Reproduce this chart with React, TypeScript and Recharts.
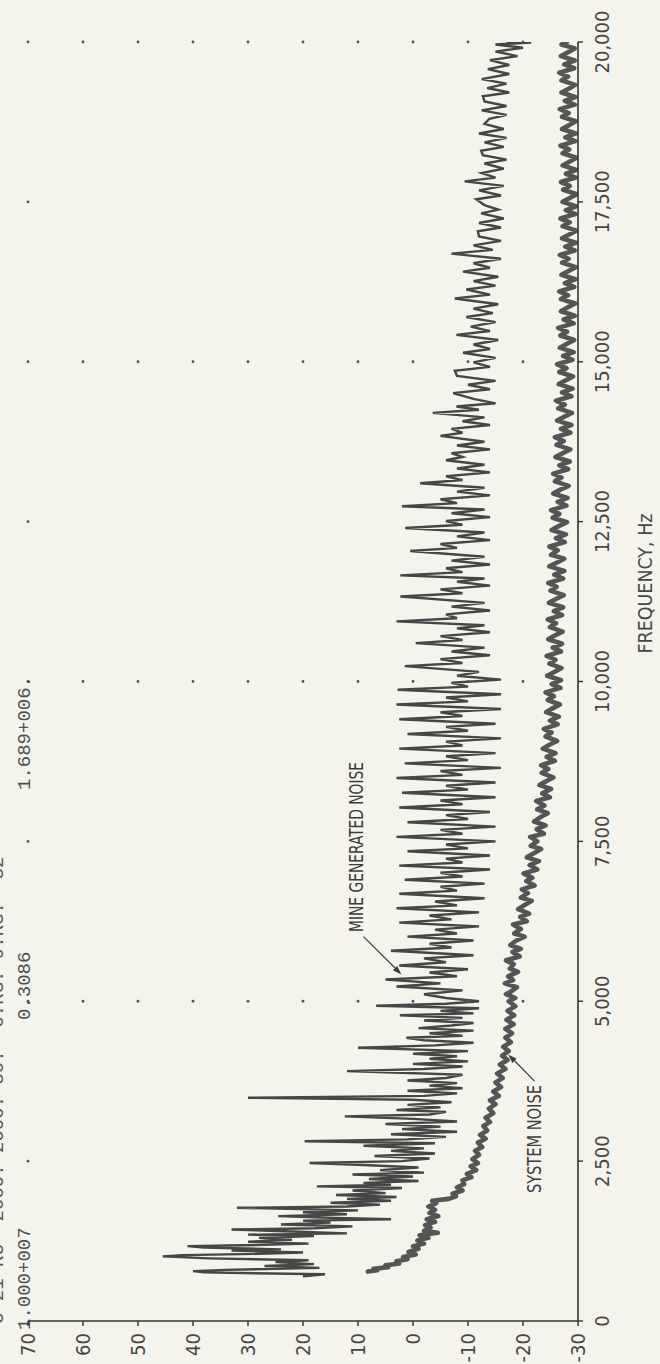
import React from 'react';
import { ComposedChart, Line, XAxis, YAxis, ReferenceDot, ReferenceLine } from 'recharts';

const NARROW = '"Liberation Sans Narrow", "DejaVu Sans Condensed", "Arial Narrow", sans-serif';
const MONO = '"Liberation Mono", "DejaVu Sans Mono", monospace';
const INK = '#464646';

const freqTicks = [0, 2500, 5000, 7500, 10000, 12500, 15000, 17500, 20000];
const freqTickLabels = ['0', '2,500', '5,000', '7,500', '10,000', '12,500', '15,000', '17,500', '20,000'];
const dbTicks = [70, 60, 50, 40, 30, 20, 10, 0, -10, -20, -30];
const gridDbRows = [70, 60, 50, 40, 30, 20, 10, 0, -10, -20];
const gridFreqCols = [5000, 10000, 15000, 20000];
const topRowExtraFreqs = [2500, 7500, 12500, 17500];

const headerLine1 = 'C 21 RC  2000. 2000. 50.  0.RG. 9.RG.  52';
const headerValues = ['1.000+007', '0.3086', '1.689+006.'];

// Mine generated noise (frequency Hz, level dB)
const mineBand700: [number, number][] = [
  [700, 20], [730, 16], [760, 38], [780, 40], [800, 34], [830, 17], [860, 27], [890, 18], [920, 25], [950, 19],
  [980, 37], [1010, 45.5], [1030, 42], [1050, 28], [1070, 20], [1100, 33], [1120, 24], [1150, 38], [1170, 41],
  [1190, 27], [1210, 19], [1240, 30], [1270, 22], [1300, 28], [1330, 18], [1350, 30], [1370, 12], [1400, 22],
  [1430, 33], [1450, 18], [1480, 11], [1510, 24], [1540, 15], [1570, 20], [1590, 4], [1610, 14], [1640, 24.5],
  [1670, 12], [1700, 20], [1730, 10], [1770, 32], [1790, 12], [1820, 6], [1850, 15], [1880, 4], [1910, 12],
  [1940, 3], [1970, 14],
];
const mineBand2000: [number, number][] = [
  [2000, 5], [2040, 11], [2080, 2], [2105, 17.5], [2130, 4], [2160, 9], [2190, -1], [2220, 8], [2260, 0],
  [2290, 11], [2320, -2], [2360, 6], [2400, -1], [2440, 9], [2470, 18.8], [2500, 2], [2540, -3], [2580, 7],
  [2620, -4], [2660, 4], [2700, -2], [2740, 9], [2780, -4], [2810, 19.7], [2840, 1], [2880, -6], [2920, 4],
  [2960, -8], [3000, 2], [3040, -5], [3080, 5], [3120, -8], [3160, 0], [3200, 12.4], [3230, -3], [3270, -6],
  [3300, 3], [3340, -5], [3380, 1], [3420, -7], [3460, 0], [3490, 30], [3520, -2], [3560, -8], [3600, 1],
  [3640, -9], [3680, -3], [3720, -8], [3760, 1], [3800, -6], [3850, -9], [3908, 12], [3940, -2], [3980, -9],
  [4020, 0], [4060, -10], [4100, -3], [4140, -8], [4180, 0], [4220, -10], [4274, 10], [4310, -4], [4350, -11],
  [4390, -2], [4430, 1.2], [4460, -9], [4500, -3], [4540, -11], [4580, -1], [4620, -7], [4660, -11], [4700, -2],
  [4740, -9], [4780, 2.4], [4810, -11], [4850, -5], [4890, -12], [4930, 6.7], [4960, -6],
];
const mineComb5000: [number, number][] = [
  [5000, -12], [5050, -6], [5110, -2], [5170, -9], [5230, 3], [5280, -5], [5340, 5], [5390, -8], [5450, -3],
  [5500, -10], [5560, 2.5], [5610, -6], [5670, -2], [5720, -11], [5790, 4], [5840, -7], [5900, -3], [5950, -11],
  [6010, 1], [6060, -8], [6120, -4], [6170, -12], [6230, 2.5], [6280, -7], [6340, -3], [6390, -12], [6455, 3],
  [6500, -8], [6560, -4], [6610, -13], [6680, 2.5], [6730, -8], [6790, -5], [6840, -13], [6900, 1.5], [6950, -9],
  [7010, -5], [7060, -14], [7120, 2.5], [7170, -9], [7230, -6], [7280, -14], [7345, 1], [7390, -10], [7450, -6],
  [7500, -15],
];
const mineComb7500: [number, number][] = [
  [7570, 3], [7620, -9], [7680, -5], [7730, -15], [7800, 1], [7850, -10], [7910, -6], [7960, -14], [8030, 2.5],
  [8080, -9], [8140, -5], [8190, -15], [8260, 2], [8310, -10], [8370, -6], [8420, -15], [8490, 3], [8540, -9],
  [8600, -5], [8650, -16], [8720, 1.5], [8770, -10], [8830, -6], [8880, -15], [8950, 2.5], [9000, -9], [9060, -6],
  [9110, -16], [9180, 1], [9230, -10], [9290, -6], [9340, -15], [9410, 2.5], [9460, -9], [9520, -5], [9570, -16],
  [9640, 3], [9690, -10], [9750, -6], [9800, -16], [9870, 2.8], [9920, -10], [9980, -7], [10030, -16],
  [10090, -8], [10150, -12],
];
const mineComb10000: [number, number][] = [
  [10240, 1.5], [10290, -9], [10350, -5], [10410, -14], [10470, -7], [10530, -13],
  [10600, -0.5], [10650, -9], [10710, -5], [10770, -14], [10830, -8], [10880, -13],
  [10940, 3], [10990, -8], [11050, -6], [11110, -14], [11170, -7], [11230, -13],
  [11330, 2.3], [11380, -9], [11440, -5], [11500, -14], [11560, -8], [11610, -13],
  [11660, 2.3], [11710, -9], [11770, -6], [11830, -14], [11890, -7], [11950, -13],
  [12040, 0.5], [12090, -8], [12150, -5], [12210, -14], [12270, -8], [12330, -13],
  [12400, 1.4], [12450, -9], [12510, -6], [12570, -14], [12630, -7], [12690, -13],
  [12740, 2], [12790, -8], [12850, -5], [12910, -14], [12970, -8], [13030, -13],
  [13100, -1.3], [13150, -9], [13210, -6], [13270, -14], [13330, -8], [13390, -13],
  [13460, -6], [13510, -9], [13570, -7], [13630, -14], [13690, -8], [13750, -13],
  [13840, -5], [13890, -9], [13950, -7], [14010, -14], [14070, -9], [14130, -13],
  [14200, -3.6],
];
const mineBand14000: [number, number][] = [
  [14250, -12], [14300, -7.9], [14350, -15], [14420, -11], [14510, -7.3], [14570, -14], [14640, -10],
  [14700, -15], [14780, -8], [14860, -7.6], [14920, -14], [14990, -11], [15060, -15], [15140, -9.1],
  [15200, -14], [15270, -11], [15340, -15.5], [15420, -7.9], [15480, -14], [15550, -10.5], [15620, -15],
  [15700, -9.7], [15760, -14.5], [15830, -11], [15900, -15.5], [15990, -7.6], [16050, -14], [16130, -9.7],
  [16190, -15], [16260, -11], [16330, -15.5], [16410, -9.1], [16470, -14], [16540, -11], [16610, -16],
  [16690, -7], [16750, -14.5], [16820, -11], [16890, -16], [16960, -12], [17040, -11.8], [17100, -16],
  [17170, -12], [17240, -16.5], [17320, -12.4], [17380, -15.5], [17450, -13], [17540, -11.5], [17600, -16],
  [17680, -12], [17750, -16.5], [17820, -9.4], [17880, -15], [17950, -12.5], [18020, -16.5], [18100, -13],
  [18160, -17], [18230, -12.7], [18300, -12.4], [18360, -16.5], [18430, -13], [18500, -17], [18570, -12],
  [18640, -16.5], [18720, -13], [18800, -13.9], [18860, -17], [18930, -12.5], [19000, -17], [19070, -13],
  [19150, -12.7], [19210, -17.5], [19280, -13.5], [19350, -17], [19420, -12.5], [19500, -17.5], [19575, -13.6],
  [19640, -17.5], [19717, -14], [19780, -19], [19850, -15], [19910, -20], [19960, -15], [19990, -21.5],
  [20000, -17],
];

// System noise (frequency Hz, level dB)
const systemLow: [number, number][] = [
  [773, 8.2], [795, 6.5], [815, 7.2], [840, 4.5], [870, 5], [900, 2.5], [935, 3], [965, 1], [1000, 1.8],
  [1040, -0.5], [1080, 0.8], [1130, -1], [1170, 0], [1210, -2], [1260, -0.8], [1300, -2.8], [1340, -1.2],
  [1380, -4.5], [1410, -2], [1460, -3.2], [1500, -2.2], [1550, -4], [1590, -2.5], [1640, -4.6], [1690, -3],
  [1740, -4], [1790, -2.8], [1840, -4.2], [1880, -3.5], [1910, -6.5], [1950, -7.8], [1990, -7.2], [2040, -9],
  [2090, -8], [2140, -9.3], [2200, -9], [2250, -10.6], [2300, -9.8], [2360, -11.5], [2420, -10.5], [2470, -11.8],
  [2530, -10.8], [2600, -12], [2660, -11.3], [2720, -12.6], [2790, -11.8], [2850, -13.2], [2910, -12.2],
  [2980, -13.5], [3050, -12.8], [3110, -14], [3180, -13.2], [3250, -14.6], [3320, -13.8], [3390, -15],
  [3450, -14], [3520, -15.6], [3590, -14.6], [3660, -16], [3730, -15], [3800, -16.3], [3870, -15.3],
  [3940, -16.8], [4010, -15.8], [4080, -17.2], [4150, -16.2], [4220, -17.4], [4290, -16.4], [4360, -17.8],
  [4430, -16.8], [4500, -18], [4570, -16.8], [4640, -18.3], [4710, -17], [4780, -18.4], [4850, -17.2],
  [4920, -18.6],
];
const systemMid: [number, number][] = [
  [5000, -17.4], [5050, -18.6], [5110, -16.9], [5150, -17.8], [5220, -18.9], [5280, -16.7], [5330, -18.2],
  [5390, -17.3], [5460, -19.1], [5510, -17.6], [5580, -18.3], [5640, -16.9], [5700, -19.4], [5770, -18.1],
  [5820, -19.6], [5880, -17.7], [5950, -18.8], [6010, -20.3], [6060, -18.4], [6130, -19.6], [6200, -18.2],
  [6250, -20.7], [6320, -19.5], [6370, -21.1], [6440, -19.1], [6500, -20.2], [6570, -21.6], [6620, -19.6],
  [6690, -20.9], [6750, -19.8], [6810, -22.1], [6880, -20.6], [6930, -21.7], [7000, -20.1], [7060, -22.6],
  [7130, -21.2], [7190, -22.9], [7250, -20.7], [7310, -21.9], [7380, -23.3], [7430, -21.4], [7500, -22.6],
  [7570, -21.3], [7620, -23.8], [7690, -22.5], [7750, -24.1], [7810, -22], [7880, -23.2], [7940, -24.5],
  [8000, -22.6], [8060, -23.9], [8130, -22.4], [8190, -24.9], [8250, -23.5], [8320, -25.1], [8380, -23],
  [8440, -24.2], [8500, -25.5], [8570, -23.4], [8630, -24.6], [8690, -23.3], [8760, -25.8], [8820, -24.3],
  [8880, -25.9], [8950, -23.6], [9010, -24.8], [9070, -26.2], [9140, -24.1], [9200, -25.2], [9260, -23.8],
  [9330, -26.3], [9390, -24.9], [9450, -26.5], [9520, -24.2], [9580, -25.4], [9640, -26.7], [9710, -24.5],
  [9770, -25.6], [9830, -24.1], [9900, -26.8], [9960, -25.2], [10020, -26.9], [10090, -24.4], [10150, -25.7],
  [10210, -27], [10280, -24.8], [10340, -25.9], [10400, -24.3], [10470, -26.9], [10530, -25.4], [10590, -27.1],
  [10660, -24.6], [10720, -25.8], [10780, -27.2], [10850, -24.9], [10910, -26], [10970, -24.5], [11040, -27.1],
  [11100, -25.6], [11160, -27.3], [11230, -24.7], [11290, -26], [11350, -27.4], [11420, -25], [11480, -26.1],
  [11540, -24.6], [11610, -27.3], [11670, -25.7], [11730, -27.5], [11800, -24.8], [11860, -26.2], [11920, -27.5],
  [11980, -25.1],
];
const systemHigh: [number, number][] = [
  [12050, -26.3], [12110, -24.8], [12180, -27.6], [12240, -26], [12300, -27.8], [12370, -25.2], [12430, -26.5],
  [12490, -28], [12560, -25.4], [12620, -26.6], [12680, -25.1], [12750, -27.9], [12810, -26.3], [12870, -28.1],
  [12940, -25.5], [13000, -26.8], [13060, -28.3], [13130, -25.8], [13190, -27], [13250, -25.5], [13320, -28.2],
  [13380, -26.6], [13440, -28.5], [13510, -25.9], [13570, -27.2], [13630, -28.6], [13700, -26.1], [13760, -27.4],
  [13820, -25.8], [13890, -28.6], [13950, -26.9], [14010, -28.8], [14080, -26.2], [14140, -27.5], [14200, -28.9],
  [14270, -26.4], [14330, -27.6], [14390, -26], [14460, -28.8], [14520, -27.1], [14580, -29], [14650, -26.5],
  [14710, -27.8], [14770, -29.1], [14840, -26.6], [14900, -27.9], [14960, -26.2], [15030, -29], [15090, -27.3],
  [15150, -29.2], [15220, -26.7], [15280, -28], [15340, -29.3], [15410, -26.8], [15470, -28], [15530, -26.4],
  [15600, -29.2], [15660, -27.4], [15720, -29.4], [15790, -26.9], [15850, -28.1], [15910, -29.5], [15980, -26.9],
  [16040, -28.2], [16100, -26.6], [16170, -29.3], [16230, -27.6], [16290, -29.5], [16360, -27], [16420, -28.3],
  [16480, -29.6], [16550, -27.1], [16610, -28.3], [16670, -26.7], [16740, -29.4], [16800, -27.7], [16860, -29.6],
  [16930, -27.1], [16990, -28.4], [17050, -29.7], [17120, -27.2], [17180, -28.5], [17240, -26.8], [17310, -29.5],
  [17370, -27.8], [17430, -29.7], [17500, -27.2], [17560, -28.5], [17620, -29.8], [17690, -27.3], [17750, -28.5],
  [17810, -26.9], [17880, -29.6], [17940, -27.8], [18000, -29.7], [18070, -27.2], [18130, -28.5], [18190, -29.7],
  [18260, -27.2], [18320, -28.4], [18380, -26.8], [18450, -29.5], [18510, -27.7], [18570, -29.6], [18640, -27.1],
  [18700, -28.4], [18760, -29.6], [18830, -27.1], [18890, -28.3], [18950, -26.7], [19020, -29.4], [19080, -27.6],
  [19140, -29.5], [19210, -27], [19270, -28.3], [19330, -29.5], [19400, -27], [19460, -28.2], [19520, -26.6],
  [19590, -29.3], [19650, -27.5], [19710, -29.4], [19780, -26.9], [19840, -28.2], [19900, -29.4], [19960, -27],
  [20000, -28],
];

// annotation anchors (frequency Hz, level dB)
const mineLabelAt: [number, number] = [6084, 9];
const mineArrow: [number, number][] = [[6010, 9], [5420, 2.1]];
const systemLabelAt: [number, number] = [2000, -23.3];
const systemArrow: [number, number][] = [[3751, -22.1], [4169, -17.3]];

const toPoints = (arr: [number, number][]) => arr.map(([f, v]) => ({ f, v }));
const mineData = toPoints([...mineBand700, ...mineBand2000, ...mineComb5000, ...mineComb7500, ...mineComb10000, ...mineBand14000]);
const systemData = toPoints([...systemLow, ...systemMid, ...systemHigh]);

const gridDots: [number, number][] = [];
gridDbRows.forEach((d) => gridFreqCols.forEach((f) => gridDots.push([f, d])));
topRowExtraFreqs.forEach((f) => gridDots.push([f, 70]));

function FreqTick(props: any) {
  const { x, y, payload } = props;
  const i = freqTicks.indexOf(payload.value);
  const label = i >= 0 ? freqTickLabels[i] : String(payload.value);
  return (
    <text x={x} y={y + 14} textAnchor="middle" fontSize={20} fontFamily={NARROW} fill={INK}>
      {label}
    </text>
  );
}

function DbTick(props: any) {
  const { x, y, payload } = props;
  return (
    <text x={x} y={y + 7} textAnchor="end" fontSize={20} fontFamily={NARROW} fill={INK}>
      {String(payload.value)}
    </text>
  );
}

function AnnoText(props: any) {
  const { viewBox, txt, len } = props;
  if (!viewBox) return null;
  return (
    <text x={viewBox.x} y={viewBox.y} fontSize={20} fontFamily={NARROW} fill="#3c3c3c" textLength={len} lengthAdjust="spacingAndGlyphs">
      {txt}
    </text>
  );
}

function FreqAxisTitle(props: any) {
  const { viewBox } = props;
  if (!viewBox) return null;
  const cx = viewBox.x + viewBox.width / 2 + 98;
  return (
    <text x={cx} y={viewBox.y + 74} textAnchor="middle" fontSize={19} fontFamily={NARROW} fill={INK} textLength={140} lengthAdjust="spacingAndGlyphs">
      FREQUENCY, Hz
    </text>
  );
}

function ArrowShape(props: any) {
  const { x1, y1, x2, y2 } = props;
  if ([x1, y1, x2, y2].some((n) => typeof n !== 'number' || isNaN(n))) return null;
  const ang = Math.atan2(y2 - y1, x2 - x1);
  const L = 9;
  const W = 3;
  const bx = x2 - L * Math.cos(ang);
  const by = y2 - L * Math.sin(ang);
  const px = -Math.sin(ang) * W;
  const py = Math.cos(ang) * W;
  return (
    <g>
      <line x1={x1} y1={y1} x2={bx} y2={by} stroke="#3c3c3c" strokeWidth={1.2} />
      <path d={`M${x2},${y2} L${bx + px},${by + py} L${bx - px},${by - py} Z`} fill="#3c3c3c" />
    </g>
  );
}

export default function App() {
  return (
    <div style={{ position: 'absolute', left: 0, top: 0, width: 660, height: 1364, overflow: 'hidden', background: '#f5f4ec' }}>
      <div
        style={{
          position: 'absolute',
          left: 0,
          top: 1364,
          width: 1364,
          height: 660,
          transformOrigin: '0 0',
          transform: 'rotate(-90deg)',
        }}
      >
        <div style={{ position: 'absolute', left: 40, top: -11, fontFamily: MONO, fontSize: 19, lineHeight: '19px', color: '#555', whiteSpace: 'pre' }}>
          {headerLine1}
        </div>
        <div style={{ position: 'absolute', left: 34, top: 16, fontFamily: MONO, fontSize: 19, lineHeight: '19px', color: '#505050', whiteSpace: 'pre' }}>
          {headerValues[0]}
        </div>
        <div style={{ position: 'absolute', left: 344, top: 16, fontFamily: MONO, fontSize: 19, lineHeight: '19px', color: '#505050', whiteSpace: 'pre' }}>
          {headerValues[1]}
        </div>
        <div style={{ position: 'absolute', left: 574, top: 16, fontFamily: MONO, fontSize: 19, lineHeight: '19px', color: '#505050', whiteSpace: 'pre' }}>
          {headerValues[2]}
        </div>
        <ComposedChart width={1364} height={660} margin={{ top: 28, right: 42, bottom: 0, left: 0 }}>
          <XAxis
            type="number"
            dataKey="f"
            domain={[0, 20000]}
            ticks={freqTicks}
            allowDataOverflow
            height={82}
            tickSize={5}
            tickMargin={12}
            tick={<FreqTick />}
            axisLine={{ stroke: '#333', strokeWidth: 1.6 }}
            tickLine={{ stroke: '#333', strokeWidth: 1.4 }}
            label={<FreqAxisTitle />}
          />
          <YAxis
            type="number"
            dataKey="v"
            domain={[-30, 70]}
            ticks={dbTicks}
            allowDataOverflow
            width={43}
            tickSize={5}
            tickMargin={7}
            tick={<DbTick />}
            axisLine={{ stroke: '#333', strokeWidth: 1.6 }}
            tickLine={{ stroke: '#333', strokeWidth: 1.4 }}
          />
          {gridDots.map(([f, d], i) => (
            <ReferenceDot key={`g${i}`} x={f} y={d} r={1.4} fill="#555" stroke="none" ifOverflow="visible" />
          ))}
          <Line
            data={systemData}
            dataKey="v"
            type="linear"
            stroke="#555"
            strokeWidth={4.6}
            strokeLinejoin="round"
            strokeLinecap="round"
            dot={false}
            activeDot={false}
            isAnimationActive={false}
          />
          <Line
            data={mineData}
            dataKey="v"
            type="linear"
            stroke="#464646"
            strokeWidth={2.4}
            strokeLinejoin="miter"
            dot={false}
            activeDot={false}
            isAnimationActive={false}
          />
          <ReferenceLine
            segment={[{ x: mineArrow[0][0], y: mineArrow[0][1] }, { x: mineArrow[1][0], y: mineArrow[1][1] }]}
            shape={<ArrowShape />}
            ifOverflow="visible"
          />
          <ReferenceLine
            segment={[{ x: systemArrow[0][0], y: systemArrow[0][1] }, { x: systemArrow[1][0], y: systemArrow[1][1] }]}
            shape={<ArrowShape />}
            ifOverflow="visible"
          />
          <ReferenceDot
            x={mineLabelAt[0]}
            y={mineLabelAt[1]}
            r={0.01}
            fill="none"
            stroke="none"
            ifOverflow="visible"
            label={<AnnoText txt="MINE GENERATED NOISE" len={170} />}
          />
          <ReferenceDot
            x={systemLabelAt[0]}
            y={systemLabelAt[1]}
            r={0.01}
            fill="none"
            stroke="none"
            ifOverflow="visible"
            label={<AnnoText txt="SYSTEM NOISE" len={108} />}
          />
        </ComposedChart>
      </div>
    </div>
  );
}
